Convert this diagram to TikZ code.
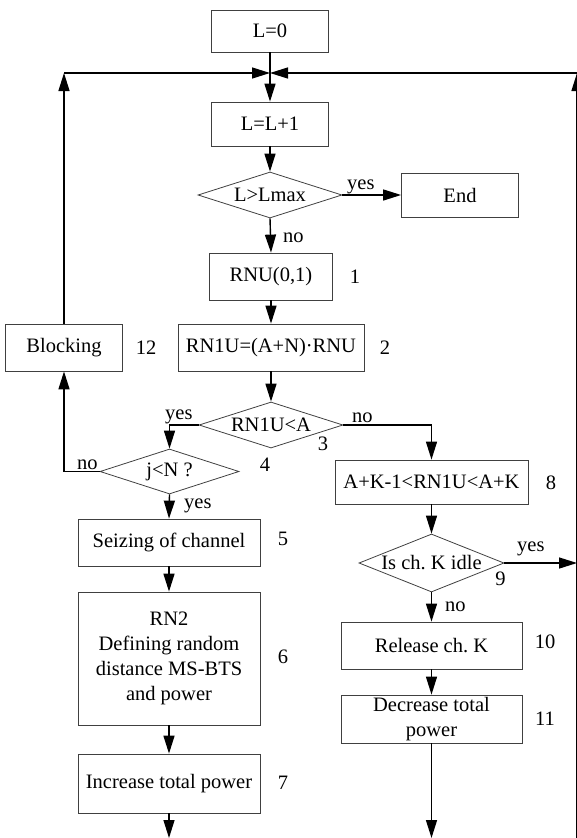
\documentclass[tikz,border=0pt]{standalone}
\usepackage{fontspec}
\setmainfont{Liberation Serif}
\usetikzlibrary{arrows.meta, positioning, shapes.geometric}
\frenchspacing

\begin{document}
\begin{tikzpicture}[x=1pt, y=-1pt, >={Triangle[length=18pt, width=11pt]}]
  \tikzset{
   every node/.style={font=\fontsize{20.5}{25}\selectfont, inner sep=0pt},
   box/.style 2 args={draw=black!75, line width=.8pt, minimum width=#1, minimum height=#2, align=center},
   decision/.style 2 args={diamond, draw=black!75, line width=.8pt, aspect=3, minimum width=#1, minimum height=#2},
   flow/.style={->, line width=1.4pt},
   tag/.style={anchor=base west},
  }
  \useasboundingbox (0,0) rectangle (577,838);

  % main column
  \node (l0) [box={117pt}{42pt}] at (270,31) {L=0};
  \node (l1) [box={117pt}{44pt}] at (270,124) {L=L+1};
  \node (lmax) [decision={144pt}{46pt}] at (270,195) {L>Lmax};
  \node (end) [box={117pt}{44pt}] at (460,195) {End};
  \node (rnu) [box={123pt}{47pt}] at (271,276.5) {RNU(0,1)};
  \node (rn1u) [box={186pt}{47pt}] at (271,347.5) {RN1U=(A+N)·RNU};
  \node (blocking) [box={117pt}{47pt}] at (64,347.5) {Blocking};
  \node (less) [decision={144pt}{46pt}] at (271,425) {RN1U<A};

  % left branch
  \node (free) [decision={139pt}{45pt}] at (169.5,471.5) {j<N ?};
  \node (seize) [box={182pt}{47pt}] at (169,542.5) {Seizing of channel};
  \node (rn2) [box={182pt}{133pt}] at (169,658.5) {RN2\\Defining random\\distance MS-BTS\\and power};
  \node (incr) [box={182pt}{59pt}] at (169,783.5) {Increase total power};

  % right branch
  \node (range) [box={193pt}{44pt}] at (431.5,482) {A+K-1<RN1U<A+K};
  \node (idle) [decision={145pt}{58pt}, aspect=2.5] at (431.5,563) {Is ch. K idle};
  \node (release) [box={181pt}{47pt}] at (431.5,645.5) {Release ch. K};
  \node (decr) [box={181pt}{48pt}] at (431.5,719) {Decrease total\\power};

  \coordinate (jc) at (270,73);
  \coordinate (jl) at (64,73);
  \coordinate (jr) at (577,73);
  \coordinate (rbot) at (577,838);
  \coordinate (yout) at (577,563);
  \coordinate (lout) at (169,838);
  \coordinate (dout) at (431.5,838);

  \foreach \n/\px/\py in {1/355/277, 2/385/348, 12/146/348, 3/323/444, 4/265/465,
   8/551/483, 5/283/539, 9/500.5/579, 6/283/657, 10/545/642, 11/545/719, 7/283/783} {
   \node (num\n) at (\px,\py) {\n};
  }

  \draw [flow] (l0) -- (l1);
  \draw [flow] (jl) -- (jc);
  \draw [flow] (jr) -- (jc);
  \draw [flow] (blocking) -- (jl);
  \draw [flow] (rbot) -- (jr);
  \draw [flow] (l1) -- (lmax);
  \draw [flow] (lmax.east) -- (end.west);
  \draw [flow] (lmax.south) -- (rnu.north);
  \draw [flow] (rnu) -- (rn1u);
  \draw [flow] (rn1u) -- (less);
  \draw [flow] (less.west) -| (free.north);
  \draw [flow] (less.east) -| (range.north);
  \draw [flow] (free.west) -| (blocking.south);
  \draw [flow] (free.south) -- (seize.north);
  \draw [flow] (seize) -- (rn2);
  \draw [flow] (rn2) -- (incr);
  \draw [flow] (incr.south) -- (lout);
  \draw [flow] (range) -- (idle);
  \draw [flow] (idle.east) -- (yout);
  \draw [flow] (idle.south) -- (release.north);
  \draw [flow] (release) -- (decr);
  \draw [flow] (decr.south) -- (dout);

  \node (yes1) [tag] at (347,189) {yes};
  \node (no1) [tag] at (283,242) {no};
  \node (yes2) [tag] at (165,419) {yes};
  \node (no2) [tag] at (352,422) {no};
  \node (no3) [tag] at (77,469) {no};
  \node (yes3) [tag] at (184,508) {yes};
  \node (yes4) [tag] at (517,551) {yes};
  \node (no4) [tag] at (445,611) {no};
\end{tikzpicture}
\end{document}
